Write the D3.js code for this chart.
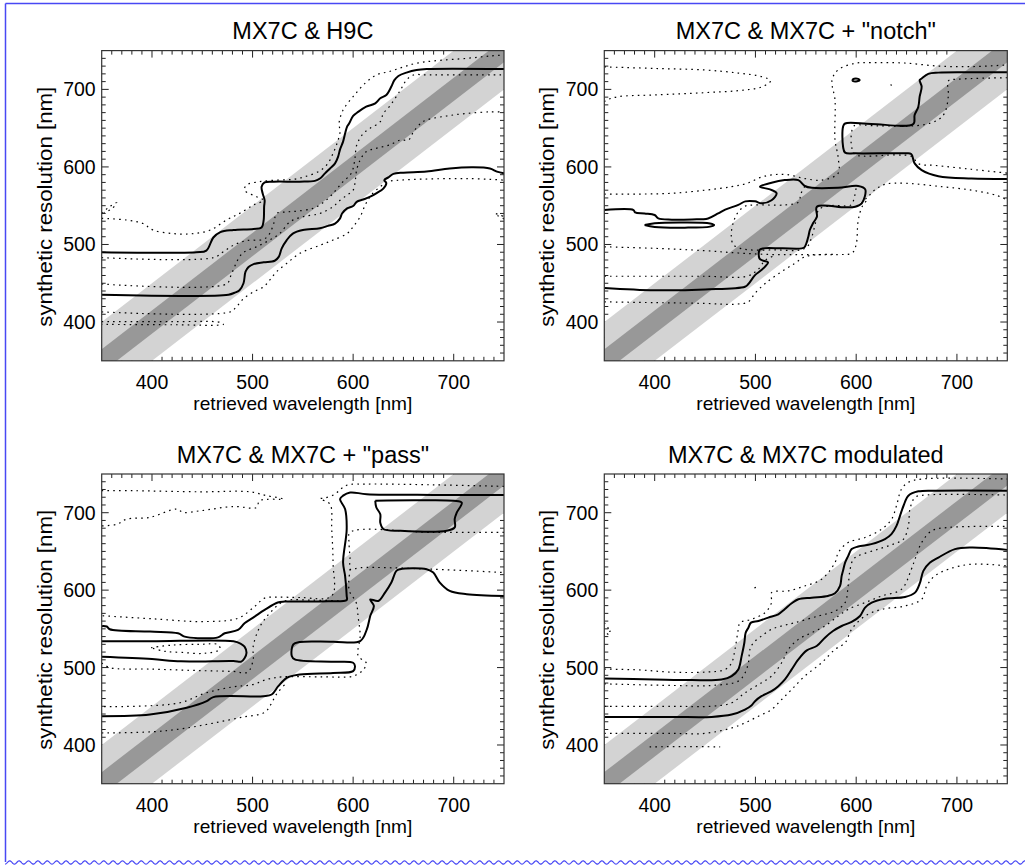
<!DOCTYPE html>
<html><head><meta charset="utf-8">
<script src="https://cdn.jsdelivr.net/npm/d3@7"></script>
<style>
body{margin:0;background:#fff}
svg{display:block}
text{font-family:"Liberation Sans",Arial,Helvetica,sans-serif;fill:#000}
</style>
</head><body>
<svg id="chart" width="1025" height="867"></svg>
<script>
// ---------------- data ----------------
const panelTitles = ["MX7C & H9C", "MX7C & MX7C + \"notch\"", "MX7C & MX7C + \"pass\"", "MX7C & MX7C modulated"];
const xLabel = "retrieved wavelength [nm]";
const yLabel = "synthetic resolution [nm]";
const axisDomain = [350, 750];
const majorTicks = [400, 500, 600, 700];
const minorStep = 10;
const bandOuterHalf = 50;
const bandInnerHalf = 15;

// Panel 1: MX7C & H9C
const p1SolidA = [[350,490],[444,490],[454,492],[461,509],[468,516],[481,518.6],[501,520],[509,522],[511,531],[511.5,549],[512,557],[510,566],[509,574.5],[512,580],[521,581],[547,581],[562,582],[567,585],[572,591.7],[577,598],[582,604.6],[585,613],[587,622.7],[590,632.6],[592,643],[594,652],[596,656],[600,665.7],[605,671],[613,677.7],[622,682],[627,688.5],[633,692.8],[638,703.6],[641,712],[645,717.3],[653,721.6],[663,725],[673,726.3],[750,726.3]];
const p1SolidB = [[350,435.2],[476,435.2],[482,437.7],[487,441],[491,450],[493,465],[496,471],[501,474.7],[511,477],[522,479],[526,484],[529,495],[534,505.7],[540,514],[550,518.6],[567,520.8],[575,524],[582,527],[587,533.7],[589,540],[594,546.6],[600,549.6],[603.5,555],[610,558],[617,561.6],[623,566],[630,572],[633,579],[631,583],[635,586.6],[640,591],[650,592.6],[673,594],[696,598],[719,599.5],[736,598],[743,594],[750,591.7]];
const p1DotA = [[350,533.7],[375,531.5],[391,527],[401,518.6],[421,514],[441,514],[458,518.6],[474,531.5],[487,540],[501,551],[511,557],[504,561.6],[492,570],[494,576.7],[507,581],[524,583],[540,584],[552,587.4],[567,595],[575,604.6],[580,617.5],[584,630.4],[587,645.5],[586,656],[590,673.4],[600,690.7],[612,708],[623,718.6],[636,723],[650,729],[663,733.7],[680,736.7],[713,740],[736,743],[750,744.4]];
const p1DotB = [[350,483],[461,483],[471,490.6],[481,499],[494,505],[511,506.6],[517,514],[521,527],[524,540],[534,542],[544,543],[560,546.6],[569,553],[577,561.6],[584,572],[590,581],[597,589.6],[600,598],[602,613],[603.5,628],[610,643],[617,650],[627,658.4],[630,669],[636,677.7],[647,699],[653,712],[660,718.6],[673,718.6],[750,718.6]];
const p1DotC = [[350,449],[474,449],[478,458.4],[482,471],[487,484],[492,490.6],[504,497],[517,505.7],[527,514],[537,529],[550,535.8],[567,540],[580,548.7],[587,557],[594,563.8],[600,570],[602,581],[603.5,596],[607,609],[613,619.7],[623,624],[636,628.3],[647,634.7],[655,634.7],[660,645.5],[667,656],[673,660.5],[693,665.7],[713,669],[736,671],[750,671]];
const p1DotD = [[350,413],[477.6,413],[484,419.7],[491,430],[501,439],[511,445.5],[517,454],[524,465],[534,475.6],[547,488.5],[567,499],[580,505.7],[594,514],[600,523],[607,535.8],[612,551],[618,563.8],[627,574.5],[635,581],[647,583],[713,585],[750,583]];
const p1DotE = [[350,400.5],[420,400.5],[468,399.5],[471,397],[420,396.5],[350,397]];
const p1DotF = [[350,540],[357,548],[365,554],[360,546],[352,541]];
const p1DotG = [[750,533],[744,537],[741,540],[746,538],[750,536]];

// Panel 2: MX7C & MX7C + "notch"
const p2SolidA = [[350,544.4],[379,544.4],[380.5,541.4],[390,540],[400,538],[403.6,533.6],[417,532],[437,532.3],[453,533.6],[463,540],[470,545],[483,551],[490,555.6],[499.6,555.6],[506,553],[516,557],[521,566],[514.5,571],[504.5,574.5],[516,579.7],[529,583],[542.6,583],[549,575.4],[556,573],[582,573],[602,575.4],[609,571],[605.5,553],[599,548.7],[589,548],[561,548.7],[561,535.8],[557,527],[554,518.6],[552.5,510],[549,497],[546,495],[527,495],[507.5,495],[504,492.8],[504,482],[508,479],[512.5,477],[510,472],[505,466],[499.6,460.5],[493,449],[489.6,445.5],[450,442],[400,441],[350,444]];
const p2SolidB = [[390,525],[400,527.3],[430,528.3],[455,527],[459,525],[455,523],[430,521.7],[400,522.6],[390,525]];
const p2SolidC = [[750,722],[714.6,722],[681.6,721.6],[671.6,720],[665,714],[663,712],[665,703.5],[663,690.6],[661.7,677.7],[658,667],[656.7,655.4],[615,655.4],[589,656],[587,652],[587,626],[589,618.4],[599,617.5],[648,617.5],[654.6,616.7],[658,604.6],[665,596],[681.6,588],[714.6,585],[750,584.4]];
const p2SolidD = [[596,712],[598,713.7],[602,713.5],[603.5,712],[601,710.5],[597,710.6],[596,712]];
const p2DotA = [[350,729],[400,727],[450,725],[483,721],[506,716.5],[515,711],[506,703],[483,698.4],[450,695.8],[400,692.8],[364,690.6],[352,686],[350,684]];
const p2DotB = [[350,565],[384,565],[417,566],[450,570],[476,574.5],[492,579],[506,587],[518,590],[532,590],[549,585],[566,583],[582,591.7],[582,613],[579,634.7],[579,686],[576,712],[582,725],[599,733.7],[615,734.5],[648,734],[682,730],[715,729.4],[750,731.5]];
const p2DotC = [[750,715],[700,713],[691.5,711],[691.5,692],[688,670],[681.6,661],[665,654],[620,653],[598,653],[595.5,645],[595.5,626],[599,616],[640,615.5],[655,613.5],[662,604],[678,602],[714,597],[750,592]];
const p2DotD = [[605,553],[612,562],[620,572],[630,578],[648,579],[681.6,575],[715,570],[740,563],[750,557]];
const p2DotE = [[549,575],[545,565],[543,555],[530,551],[500,551],[489,549],[482,540],[478,528],[476,512],[478,500],[485,495],[495,493],[520,493],[545,493],[552,498],[556,510],[560,530],[563,545],[575,550],[595,551],[598,560],[600,573]];
const p2DotF = [[350,497],[400,495],[450,492],[483,489],[516,487],[549,487],[582,487],[596,489],[600,500],[602,531],[606,549],[610,556]];
const p2DotG = [[350,459],[400,459],[450,459],[491.6,459],[502,467],[510,480],[520,486]];
const p2DotH = [[350,426],[400,425],[450,424],[480,423],[493,426],[499.6,437],[510,450],[526,465],[539,475.6],[549,484],[565,487],[580,487]];
const p2DotI = [[634,706],[636,705]];

// Panel 3: MX7C & MX7C + "pass"
const p3SolidA = [[750,723],[679.7,723],[613.5,724],[597,726],[590,722],[587,717.6],[592,704.7],[593.6,679],[590,635.6],[592,618.4],[593.6,592.5],[593.6,587.3],[575,585.5],[532,585.2],[525,584],[512,574.4],[502,565.8],[492,557.2],[485.5,548.6],[472.3,544.3],[465.6,539],[445.7,538],[432.5,540],[425.9,544.3],[398,546.5],[358,549.5],[355,553],[350,553.5]];
const p3SolidB = [[350,534],[400,534],[481,534],[488,531],[492,527],[494,519],[492,512],[488.8,507.7],[481,508.5],[428.8,508],[400,511],[350,514]];
const p3SolidC = [[750,592.5],[713,594.7],[696,599],[686,610],[679.7,622.7],[673,627],[646.6,627],[643,624.9],[638,609.8],[631.7,596.8],[625,586],[617,588],[620.6,579.6],[617,566.6],[613.6,549.4],[607,534.2],[580,533.4],[547,533],[540.5,530],[539,515],[542,510.5],[580,507.5],[600,506.2],[601.8,502],[600,495.4],[580,493],[547,491],[534,486.8],[525.6,476],[519,465.2],[510.7,463],[461,461.8],[454.4,456.6],[434.5,448],[398,439.3],[350,437.2]];
const p3SolidD = [[622,715.5],[660,716],[700,715.5],[708,713],[703,700],[701,692],[701,681],[693,676.6],[647,676.6],[630,679],[627,687],[627,698],[623,707],[622,715.5]];
const p3DotA = [[350,728.4],[381.5,728.4],[447.8,727],[497.5,727],[514,722],[530.6,717.6],[507,715.5],[504,706.8],[481,708],[448,702.5],[431,700.4],[424.6,704.7],[398,694],[374.9,691.7],[365,685],[350,683]];
const p3DotB = [[750,734],[680,736],[613,737],[595,736],[588,731],[582,724],[572,719],[567,718],[577,711],[578.7,678.8],[580,635.6],[578.7,592.5],[547,590.5],[525,591],[512,589.7],[502,578.8],[485.5,563.7],[452.4,559.4],[400,563],[350,567]];
const p3DotC = [[750,674.5],[679.7,674.5],[597,674.5],[596,660],[597,640],[597,627],[607,629],[679.7,627],[750,622.7]];
const p3DotD = [[597,627],[596,600],[603,584],[605,565],[607,541],[605,515],[613,506],[610,497],[600,489],[570,488],[530,488],[515,485],[500,478],[480,475],[453,467],[426,454],[350,449.5]];
const p3DotE = [[350,415.5],[400,417],[430,421],[460,428],[490,436],[512,442],[518,452],[524,466],[532,478]];
const p3DotF = [[399,525.6],[420,529],[447.8,530],[465.6,529.6],[467.6,523.5],[452,518.4],[430,519.5],[412.6,521],[399,525.6]];
const p3DotG = [[350,506],[358,500],[400,498],[450,496],[481,495],[495,494],[500.6,510],[500.6,527],[507.4,553],[518.6,572.4],[532,586],[560,587],[590,586]];

// Panel 4: MX7C & MX7C modulated
const p4SolidA = [[350,486],[400,484.6],[436.7,483.8],[466.5,484.6],[476.4,489],[483,497.6],[486.3,514.8],[489,532],[490.3,545],[493,551.5],[495.6,558],[503,560.1],[512.8,564.5],[522.7,568.8],[529,575.2],[536,583],[542.6,588.2],[555.8,590.3],[572,592.5],[579,596],[584,605.4],[585.6,618.4],[587.3,627],[589,635.6],[592,644],[595.5,653],[602,656.4],[615,659.4],[628.6,665.9],[635,672.3],[640,683],[643.5,696],[647,709],[651.8,722],[661.7,727.6],[681.6,728.4],[750,728.4]];
const p4SolidB = [[350,436.3],[416.8,436.3],[456.5,436.3],[476.4,439.3],[489.6,445.8],[496,451],[499.6,456.6],[506,463],[516,469.5],[522.7,476],[529.3,484.6],[536,497.6],[542.6,510.5],[551,522.2],[560.8,527.8],[569,538.6],[577,547.2],[585.6,553.7],[595.5,559],[603.8,566.6],[608.8,577.4],[615.4,583.9],[628.6,589],[648.5,591.2],[658.4,596.8],[663.4,609.8],[666.7,624.9],[673.3,635.6],[681.6,642.1],[698,653],[714.6,655],[750,652]];
const p4DotA = [[350,498],[383.8,497],[416.8,494.1],[450,494.1],[470,497.6],[476.4,506.2],[479.7,523.5],[483,549.4],[484.7,558],[496,562.3],[509.5,570.9],[516,583.9],[516,596.8],[532.7,599],[549,605.4],[565.7,614],[579,635.6],[582.3,648.6],[592,661.5],[608.8,668],[625.3,678.8],[635.2,691.7],[640,709],[645,730.6],[651.8,739.2],[665,743.5],[750,743.5]];
const p4DotB = [[350,479],[416.8,476.9],[456.5,476.9],[483,482.5],[489.6,493],[493,506],[494.6,523.5],[498,532],[506,540.7],[516,549.4],[526,553.7],[539.3,558],[562.4,566.6],[579,573],[589,583.9],[592,605.4],[594,627],[597.2,640],[602,644.3],[622,653],[636.8,659.4],[647,665.9],[651.8,683],[653.4,704.7],[658.4,719.8],[668.3,722.8],[750,722.8]];
const p4DotC = [[350,450],[416.8,450],[456.5,450],[476.4,454.4],[489.6,467.4],[506,480.3],[516,489],[526,506.2],[532.7,523.5],[542.6,536.4],[555.8,545],[569,553.7],[582.3,566.6],[592,575.2],[608.8,583.9],[625.3,592.5],[645,601.1],[654.8,627],[658.4,640],[665,661.5],[675,676.6],[691.5,681],[750,682.2]];
const p4DotD = [[350,415],[416.8,415],[450,415],[476.4,422],[489.6,428.5],[503,437.2],[516,445.8],[526,458.7],[536,471.7],[549,489],[565.7,506.2],[579,523.5],[589,532],[595.5,549.4],[608.8,566.6],[625.3,575.2],[648.5,579.6],[665,588.2],[670,605.4],[678,618.4],[691.5,627],[714.6,633.5],[750,631.3]];
const p4DotE = [[350,558],[353,552],[357,548],[352,545],[355,542]];
const p4DotF = [[499,603],[500.5,603.5]];
const p4DotG = [[395,397.5],[430,398],[465,397.5]];

const panelSolid = [[p1SolidA,p1SolidB],[p2SolidA,p2SolidB,p2SolidC,p2SolidD],[p3SolidA,p3SolidB,p3SolidC,p3SolidD],[p4SolidA,p4SolidB]];
const panelDotted = [[p1DotA,p1DotB,p1DotC,p1DotD,p1DotE,p1DotF,p1DotG],[p2DotA,p2DotB,p2DotC,p2DotD,p2DotE,p2DotF,p2DotG,p2DotH,p2DotI],[p3DotA,p3DotB,p3DotC,p3DotD,p3DotE,p3DotF,p3DotG],[p4DotA,p4DotB,p4DotC,p4DotD,p4DotE,p4DotF,p4DotG]];

// ---------------- layout ----------------
const svg = d3.select("#chart");
const W = 1025, H = 867;
const blue = "#4848f4";

// page frame: top line, left line, wavy bottom
svg.append("line").attr("x1",5.5).attr("x2",W).attr("y1",3.5).attr("y2",3.5).attr("stroke",blue).attr("stroke-width",1.5);
svg.append("line").attr("x1",5.5).attr("x2",5.5).attr("y1",3.5).attr("y2",862).attr("stroke",blue).attr("stroke-width",1.5);
const wave = d3.range(5, W+1, 0.5).map(x => [x, 862.5 + 1.6*Math.cos((x-5)/9.4*2*Math.PI)]);
svg.append("path").attr("d", d3.line()(wave)).attr("fill","none").attr("stroke",blue).attr("stroke-width",1.2);

const panelBoxes = [
  {left:101.7, top:50.6, width:402.3, height:310.2},
  {left:604.3, top:50.6, width:403.0, height:310.2},
  {left:101.7, top:474.0, width:402.3, height:309.7},
  {left:604.3, top:474.0, width:403.0, height:309.7}
];

panelBoxes.forEach((b, i) => {
  const g = svg.append("g");
  const x = d3.scaleLinear().domain(axisDomain).range([b.left, b.left + b.width]);
  const y = d3.scaleLinear().domain(axisDomain).range([b.top + b.height, b.top]);
  const clipId = "clip" + i;
  svg.append("clipPath").attr("id", clipId).append("rect")
    .attr("x", b.left).attr("y", b.top).attr("width", b.width).attr("height", b.height);

  // ticks (drawn first, bands cover them like the original)
  const minors = d3.range(axisDomain[0] + minorStep, axisDomain[1], minorStep).filter(v => !majorTicks.includes(v));
  const tg = g.append("g").attr("stroke","#222").attr("stroke-width",1);
  const tickSet = [...majorTicks.map(v => ({v, len:7})), ...minors.map(v => ({v, len:4}))];
  tickSet.forEach(t => {
    const px = x(t.v), py = y(t.v);
    tg.append("line").attr("x1",px).attr("x2",px).attr("y1",b.top+b.height).attr("y2",b.top+b.height-t.len);
    tg.append("line").attr("x1",px).attr("x2",px).attr("y1",b.top).attr("y2",b.top+t.len);
    tg.append("line").attr("y1",py).attr("y2",py).attr("x1",b.left).attr("x2",b.left+t.len);
    tg.append("line").attr("y1",py).attr("y2",py).attr("x1",b.left+b.width).attr("x2",b.left+b.width-t.len);
  });

  const pg = g.append("g").attr("clip-path", `url(#${clipId})`);
  const band = w => [[300,300+w],[800,800+w],[800,800-w],[300,300-w]].map(d => [x(d[0]), y(d[1])]);
  pg.append("path").attr("d", d3.line()(band(bandOuterHalf)) + "Z").attr("fill","#d3d3d3");
  pg.append("path").attr("d", d3.line()(band(bandInnerHalf)) + "Z").attr("fill","#989898");

  const line = d3.line().x(d => x(d[0])).y(d => y(d[1])).curve(d3.curveCatmullRom.alpha(0.5));
  panelDotted[i].forEach(c => {
    pg.append("path").attr("d", line(c)).attr("fill","none").attr("stroke","#000")
      .attr("stroke-width",1.2).attr("stroke-dasharray","1.6,4.2");
  });
  panelSolid[i].forEach(c => {
    pg.append("path").attr("d", line(c)).attr("fill","none").attr("stroke","#000")
      .attr("stroke-width",2).attr("stroke-linejoin","round");
  });

  g.append("rect").attr("x",b.left).attr("y",b.top).attr("width",b.width).attr("height",b.height)
    .attr("fill","none").attr("stroke","#333").attr("stroke-width",1.2);

  // tick labels
  majorTicks.forEach(v => {
    g.append("text").attr("x", x(v)).attr("y", b.top + b.height + 28.5).attr("text-anchor","middle")
      .attr("font-size","19.5px").text(v);
    g.append("text").attr("x", b.left - 6).attr("y", y(v) + 7).attr("text-anchor","end")
      .attr("font-size","19.5px").text(v);
  });
  g.append("text").attr("x", b.left + b.width/2).attr("y", b.top + b.height + 49).attr("text-anchor","middle")
    .attr("font-size","19px").attr("textLength",219).attr("lengthAdjust","spacingAndGlyphs").text(xLabel);
  g.append("text").attr("transform", `translate(${b.left - 50},${b.top + b.height/2 + 1}) rotate(-90)`)
    .attr("text-anchor","middle").attr("font-size","19.5px")
    .attr("textLength",240).attr("lengthAdjust","spacingAndGlyphs").text(yLabel);
  g.append("text").attr("x", b.left + b.width/2).attr("y", b.top - 11.5).attr("text-anchor","middle")
    .attr("font-size","23.5px").text(panelTitles[i]);
});
</script>
</body></html>
